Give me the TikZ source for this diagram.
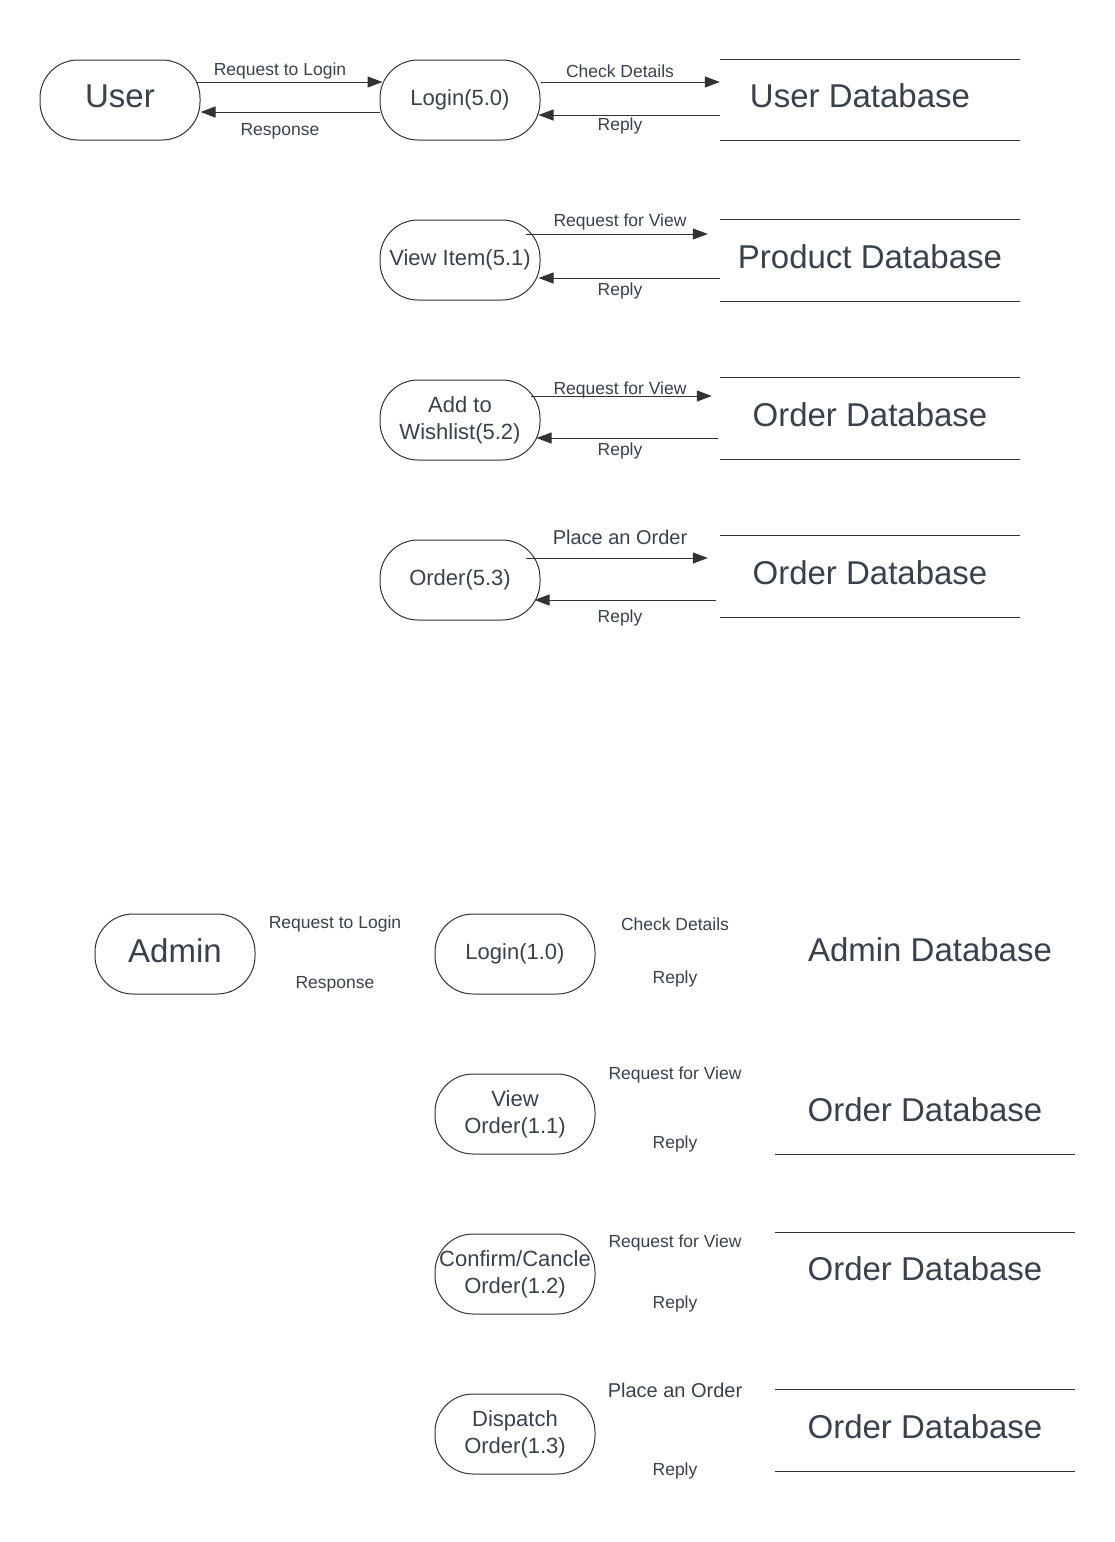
\documentclass[tikz,border=0pt]{standalone}
\usepackage{fontspec}
\setmainfont{Liberation Sans}
\usepackage{tikz}
\usetikzlibrary{arrows.meta,positioning}
\definecolor{ink}{HTML}{3A414A}
\definecolor{edge}{HTML}{333333}

\begin{document}
\begin{tikzpicture}
	[x=1pt,y=-1pt,
	entity/.style={rectangle,rounded corners=38pt,draw=edge,line width=1pt,text=ink,inner sep=0pt,minimum width=160pt,minimum height=80pt,text depth=7pt,font=\fontsize{33}{38}\selectfont},
	process/.style={rectangle,rounded corners=38pt,draw=edge,line width=1pt,text=ink,inner sep=0pt,minimum width=160pt,minimum height=80pt,align=center,font=\fontsize{22}{27}\selectfont},
	store/.style={rectangle,text=ink,inner sep=0pt,minimum width=300pt,minimum height=81pt,text depth=8pt,font=\fontsize{33}{38}\selectfont},
	flowlabel/.style={text=ink,inner sep=0pt,yshift=-2pt,font=\fontsize{17.5}{20}\selectfont},
	biglabel/.style={text=ink,inner sep=0pt,font=\fontsize{20}{24}\selectfont},
	flow/.style={draw=edge,line width=1pt,-{Triangle[length=15pt,width=11pt]}},
	storeline/.style={draw=edge,line width=1pt}]
	\useasboundingbox (0,0) rectangle (1115,1542);
%% user side
	\node (user) at (120,100) [entity] {User};
	\node (login) at (460,100) [process] {Login(5.0)};
	\node (userdb) at (870,100) [store] {User Database\hspace*{20pt}};
	\node (viewitem) at (460,260) [process] {View Item(5.1)};
	\node (productdb) at (870,260.5) [store] {Product Database};
	\node (wishlist) at (460,420) [process] {Add to\\Wishlist(5.2)};
	\node (orderdbA) at (870,418.5) [store] {Order Database};
	\node (order) at (460,580) [process] {Order(5.3)};
	\node (orderdbB) at (870,576.5) [store] {Order Database};
	\draw [storeline] (userdb.north west) -- (userdb.north east);
	\draw [storeline] (userdb.south west) -- (userdb.south east);
	\draw [storeline] (productdb.north west) -- (productdb.north east);
	\draw [storeline] (productdb.south west) -- (productdb.south east);
	\draw [storeline] (orderdbA.north west) -- (orderdbA.north east);
	\draw [storeline] (orderdbA.south west) -- (orderdbA.south east);
	\draw [storeline] (orderdbB.north west) -- (orderdbB.north east);
	\draw [storeline] (orderdbB.south west) -- (orderdbB.south east);
	\draw [flow] ([xshift=-5pt,yshift=18pt]user.east) -- ([xshift=3pt,yshift=18pt]login.west);
	\draw [flow] ([yshift=-12pt]login.west) -- ([yshift=-12pt]user.east);
	\draw [flow] ([yshift=18pt]login.east) -- ([yshift=18pt]userdb.west);
	\draw [flow] ([yshift=-15pt]userdb.west) -- ([xshift=-2pt,yshift=-15pt]login.east);
	\draw [flow] ([xshift=-15pt,yshift=26pt]viewitem.east) -- ([xshift=-12pt,yshift=26.5pt]productdb.west);
	\draw [flow] ([yshift=-17.5pt]productdb.west) -- ([xshift=-2pt,yshift=-18pt]viewitem.east);
	\draw [flow] ([xshift=-10pt,yshift=24pt]wishlist.east) -- ([xshift=-8pt,yshift=22.5pt]orderdbA.west);
	\draw [flow] ([xshift=-2pt,yshift=-19.5pt]orderdbA.west) -- ([xshift=-4pt,yshift=-18pt]wishlist.east);
	\draw [flow] ([xshift=-15pt,yshift=22pt]order.east) -- ([xshift=-12pt,yshift=18.5pt]orderdbB.west);
	\draw [flow] ([xshift=-4pt,yshift=-23.5pt]orderdbB.west) -- ([xshift=-6pt,yshift=-20pt]order.east);
	\node (reqloginA) at (280,69) [flowlabel] {Request to Login};
	\node (responseA) at (280,129) [flowlabel] {Response};
	\node (checkA) at (620,69) [flowlabel] {Check Details};
	\node (replyA) at (620,124) [flowlabel] {Reply};
	\node (reqviewA) at (620,220) [flowlabel] {Request for View};
	\node (replyB) at (620,289) [flowlabel] {Reply};
	\node (reqviewB) at (620,388) [flowlabel] {Request for View};
	\node (replyC) at (620,449) [flowlabel] {Reply};
	\node (placeA) at (620,537) [biglabel] {Place an Order};
	\node (replyD) at (620,616) [flowlabel] {Reply};
%% admin side
	\node (admin) at (175,954) [entity] {Admin};
	\node (loginadm) at (515,954) [process] {Login(1.0)};
	\node (admindb) at (930,954) [store] {Admin Database};
	\node (vieworder) at (515,1114) [process] {View\\Order(1.1)};
	\node (orderdbC) at (925,1114) [store] {Order Database};
	\node (confirm) at (515,1274) [process] {Confirm/Cancle\\Order(1.2)};
	\node (orderdbD) at (925,1273) [store] {Order Database};
	\node (dispatch) at (515,1434) [process] {Dispatch\\Order(1.3)};
	\node (orderdbE) at (925,1430.5) [store] {Order Database};
	\draw [storeline] (orderdbC.south west) -- (orderdbC.south east);
	\draw [storeline] (orderdbD.north west) -- (orderdbD.north east);
	\draw [storeline] (orderdbE.north west) -- (orderdbE.north east);
	\draw [storeline] (orderdbE.south west) -- (orderdbE.south east);
	\node (reqloginB) at (335,922) [flowlabel] {Request to Login};
	\node (responseB) at (335,982) [flowlabel] {Response};
	\node (checkB) at (675,922) [flowlabel] {Check Details};
	\node (replyE) at (675,977) [flowlabel] {Reply};
	\node (reqviewC) at (675,1073) [flowlabel] {Request for View};
	\node (replyF) at (675,1142) [flowlabel] {Reply};
	\node (reqviewD) at (675,1241) [flowlabel] {Request for View};
	\node (replyG) at (675,1302) [flowlabel] {Reply};
	\node (placeB) at (675,1390) [biglabel] {Place an Order};
	\node (replyH) at (675,1469) [flowlabel] {Reply};
\end{tikzpicture}
\end{document}
